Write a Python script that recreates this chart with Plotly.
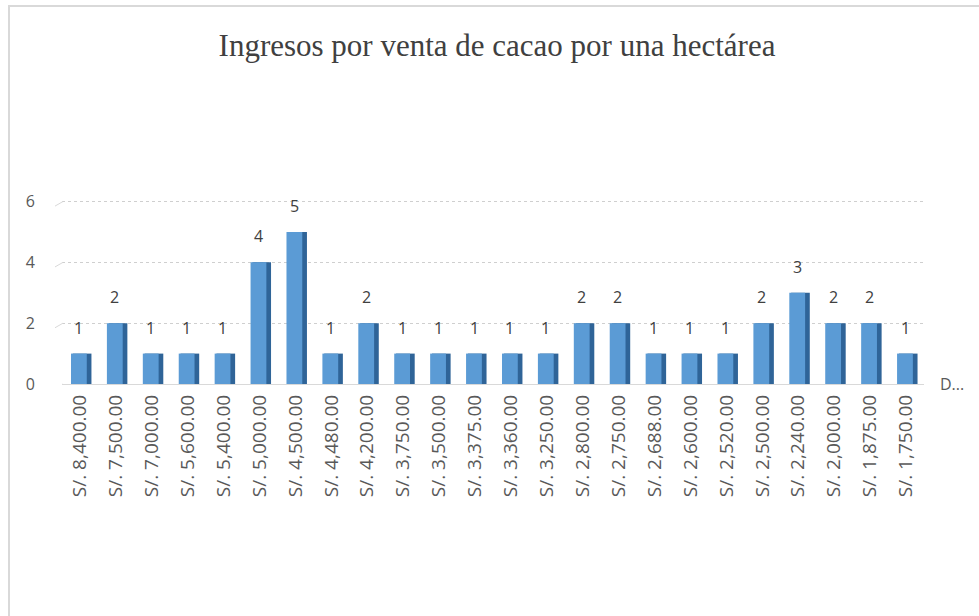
import plotly.graph_objects as go

categories = [
    "S/. 8,400.00", "S/. 7,500.00", "S/. 7,000.00", "S/. 5,600.00",
    "S/. 5,400.00", "S/. 5,000.00", "S/. 4,500.00", "S/. 4,480.00",
    "S/. 4,200.00", "S/. 3,750.00", "S/. 3,500.00", "S/. 3,375.00",
    "S/. 3,360.00", "S/. 3,250.00", "S/. 2,800.00", "S/. 2,750.00",
    "S/. 2,688.00", "S/. 2,600.00", "S/. 2,520.00", "S/. 2,500.00",
    "S/. 2,240.00", "S/. 2,000.00", "S/. 1,875.00", "S/. 1,750.00",
]
counts = [1, 2, 1, 1, 1, 4, 5, 1, 2, 1, 1, 1, 1, 1, 2, 2, 1, 1, 1, 2, 3, 2, 2, 1]
y_ticks = [0, 2, 4, 6]

title = "Ingresos por venta de cacao por una hectárea"

W, H = 979, 616
left, right, top, bottom = 62, 55, 200, 232
sans = "Open Sans, Liberation Sans, sans-serif"

fig = go.Figure()

# darker side face to fake the 3D look
fig.add_trace(go.Bar(
    x=categories, y=counts,
    width=0.52, offset=-0.2,
    marker=dict(color="#2f6498", line=dict(width=0)),
    hoverinfo="skip", showlegend=False,
))
# front face
fig.add_trace(go.Bar(
    x=categories, y=counts,
    width=0.44, offset=-0.25,
    marker=dict(color="#5b9bd5", line=dict(width=0)),
    showlegend=False,
))

plot_h = H - top - bottom
plot_w = W - left - right


def px_x(px):
    return (px - left) / plot_w


def px_y(py):
    return (H - bottom - py) / plot_h


shapes = [
    # outer chart border
    dict(type="rect", xref="paper", yref="paper",
         x0=px_x(9), x1=px_x(990), y0=px_y(640), y1=px_y(6),
         line=dict(color="#d9d9d9", width=2), fillcolor="rgba(0,0,0,0)", layer="below"),
]
# little slanted "floor" strokes at the left end of each gridline
for t in y_ticks:
    shapes.append(dict(type="line", xref="paper", yref="y",
                       x0=px_x(55), x1=px_x(63), y0=t - 0.15, y1=t,
                       line=dict(color="#d9d9d9", width=1)))

# value labels sit a little higher than plotly's "outside" text, as in the 3D chart
annotations = [
    dict(x=c, y=v, text=str(v), xref="x", yref="y", showarrow=False,
         xanchor="center", yanchor="bottom", yshift=13, xshift=-1,
         font=dict(family=sans, size=16, color="#404040"))
    for c, v in zip(categories, counts)
]
annotations.append(dict(
    text="D...", xref="paper", yref="y", x=px_x(938), y=0,
    xanchor="left", yanchor="middle", showarrow=False,
    font=dict(family=sans, size=16, color="#595959"),
))

fig.update_layout(
    width=W, height=H,
    margin=dict(l=left, r=right, t=top, b=bottom, autoexpand=False),
    paper_bgcolor="white", plot_bgcolor="white",
    barmode="overlay",
    title=dict(text=title, x=px_x(497), xref="paper", xanchor="center", y=1 - 45 / H, yanchor="middle",
               font=dict(family="Liberation Serif, Times New Roman, serif", size=31, color="#404040")),
    xaxis=dict(
        type="category", tickangle=-90, showgrid=False, showline=False, ticks="",
        tickfont=dict(family=sans, size=19, color="#595959"),
        ticklabelstandoff=6, automargin=False,
    ),
    yaxis=dict(
        range=[0, 6.05], tickvals=y_ticks, showline=False, ticks="",
        gridcolor="#cfcfcf", gridwidth=1, griddash="dot",
        zeroline=True, zerolinecolor="#d9d9d9", zerolinewidth=1,
        tickfont=dict(family=sans, size=16, color="#595959"),
        ticklabelstandoff=26, automargin=False,
    ),
    shapes=shapes,
    annotations=annotations,
)

fig.write_html("out.html", config={"displayModeBar": False},
               post_script="document.body.style.margin='0';")
